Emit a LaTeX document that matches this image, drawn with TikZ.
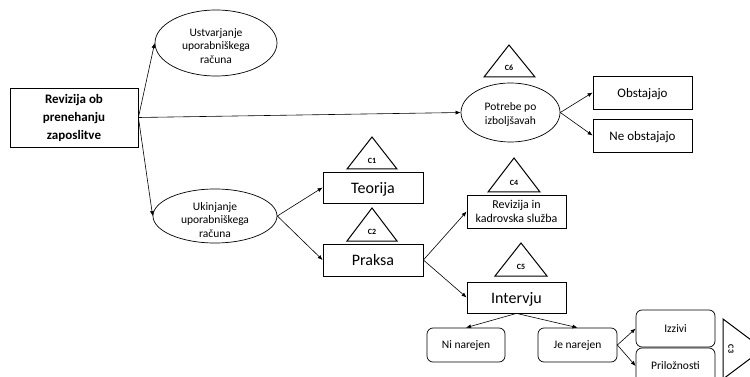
\documentclass[tikz,border=0pt]{standalone}
\usepackage{fontspec}
\setmainfont{Carlito}
\usetikzlibrary{arrows.meta,shapes.geometric}
\tikzset{
  box/.style={draw, line width=0.8pt, rectangle, inner sep=0pt, align=center},
  rbox/.style={draw, line width=0.7pt, rectangle, rounded corners=6pt, inner sep=0pt, align=center, text depth=0pt, font=\fontsize{11.5}{13}\selectfont},
  ell/.style={draw, line width=0.7pt, ellipse, inner sep=0pt},
  etxt/.style={inner sep=0pt, align=center, font=\fontsize{11.5}{13.8}\selectfont},
  arr/.style={-{Latex[length=5pt,width=4pt]}, line width=0.6pt},
  tri/.style={draw, line width=1pt, line join=miter},
  tlab/.style={font=\fontsize{8}{9}\selectfont\bfseries, inner sep=0pt},
  big/.style={font=\fontsize{16}{18}\selectfont, text depth=0pt},
  mid/.style={font=\fontsize{13}{15}\selectfont, text depth=0pt},
}
\begin{document}
\begin{tikzpicture}[x=1pt,y=-1pt]
\useasboundingbox (0,0) rectangle (750,377);
\clip (0,0) rectangle (750,377);
\fill[white] (0,0) rectangle (750,377);

% main box
\node[box, minimum width=128pt, minimum height=59pt, font=\fontsize{13}{18}\selectfont\bfseries] (main) at (74,117.5) {Revizija ob\\prenehanju\\zaposlitve};

% ellipses
\node[ell, minimum width=122pt, minimum height=66pt] (ust) at (216,43) {};
\node[etxt] (ust-t) at (216,46) {Ustvarjanje\\uporabniškega\\računa};
\node[ell, minimum width=124pt, minimum height=54pt] (ukin) at (215,216) {};
\node[etxt] (ukin-t) at (215,220) {Ukinjanje\\uporabniškega\\računa};
\node[ell, minimum width=99pt, minimum height=59pt] (pot) at (510.5,112.5) {};
\node[etxt] (pot-t) at (510.5,114.5) {Potrebe po\\izboljšavah};

% boxes
\node[box, mid, minimum width=99pt, minimum height=33pt] (obs) at (642.5,92.5) {Obstajajo};
\node[box, mid, minimum width=99pt, minimum height=33pt] (neobs) at (642.5,135.5) {Ne obstajajo};
\node[box, big, minimum width=100pt, minimum height=31pt] (teo) at (373,187.5) {Teorija};
\node[box, big, minimum width=100pt, minimum height=32pt] (pra) at (373,260) {Praksa};
\node[box, minimum width=99pt, minimum height=33pt, font=\fontsize{12}{14}\selectfont] (rev) at (516.5,211.5) {Revizija in\\kadrovska služba};
\node[box, big, minimum width=99pt, minimum height=31pt] (int) at (516.5,297.5) {Intervju};

% rounded boxes
\node[rbox, minimum width=78pt, minimum height=34pt] (ni) at (466,345) {Ni narejen};
\node[rbox, minimum width=79pt, minimum height=34pt] (je) at (577.5,345) {Je narejen};
\node[rbox, minimum width=79pt, minimum height=37pt] (izz) at (675.5,328.5) {Izzivi};
\node[rbox, minimum width=79pt, minimum height=36pt] (pri) at (675.5,366) {Priložnosti};

% triangles
\draw[tri] (509,45) -- (535,77) -- (484,77) -- cycle;
\node[tlab] (c6) at (509,68) {C6};
\draw[tri] (372,137) -- (397,169) -- (347,169) -- cycle;
\node[tlab] (c1) at (372,161) {C1};
\draw[tri] (372,208) -- (397,241) -- (347,241) -- cycle;
\node[tlab] (c2) at (372,232) {C2};
\draw[tri] (514,158) -- (540,192) -- (488,192) -- cycle;
\node[tlab] (c4) at (514,183) {C4};
\draw[tri] (521,243) -- (547,276) -- (495,276) -- cycle;
\node[tlab] (c5) at (521,267) {C5};
\draw[tri] (723,319) -- (763,349) -- (723,379) -- cycle;
\node[tlab, rotate=-90] (c3) at (731,349) {C3};

% connectors
\draw[arr] (main.east) -- (ust.west);
\draw[arr] (main.east) -- (pot.west);
\draw[arr] (main.east) -- (ukin.west);
\draw[arr] (ukin.east) -- (teo.west);
\draw[arr] (ukin.east) -- (pra.west);
\draw[arr] (pra.east) -- (rev.west);
\draw[arr] (pra.east) -- (int.west);
\draw[arr] (int.south) -- (ni.north);
\draw[arr] (int.south) -- (je.north);
\draw[arr] (je.east) -- (izz.west);
\draw[arr] (je.east) -- (pri.west);
\draw[arr] (pot.east) -- (obs.west);
\draw[arr] (pot.east) -- (neobs.west);
\end{tikzpicture}
\end{document}
